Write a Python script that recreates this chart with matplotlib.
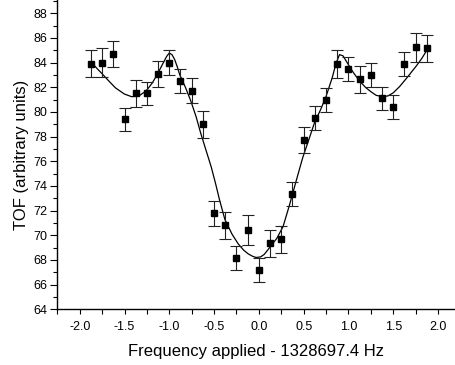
import matplotlib
matplotlib.use('Agg')
import matplotlib.pyplot as plt
from matplotlib.ticker import MultipleLocator, FormatStrFormatter

freq = [-1.875, -1.75, -1.625, -1.5, -1.375, -1.25, -1.125, -1.0, -0.875, -0.75, -0.625,
        -0.5, -0.375, -0.25, -0.125, 0.0, 0.125, 0.25, 0.375, 0.5, 0.625, 0.75, 0.875,
        1.0, 1.125, 1.25, 1.375, 1.5, 1.625, 1.75, 1.875]
tof = [83.9, 84.0, 84.7, 79.4, 81.5, 81.5, 83.05, 84.0, 82.5, 81.73, 79.0,
       71.78, 70.83, 68.16, 70.43, 67.18, 69.35, 69.67, 73.35, 77.73, 79.51, 80.97, 83.89,
       83.48, 82.65, 83.0, 81.1, 80.38, 83.89, 85.24, 85.16]
tof_err = [1.1, 1.15, 1.07, 0.92, 1.13, 0.97, 1.05, 1.0, 1.0, 1.0, 1.1,
           1.0, 1.1, 1.0, 1.2, 1.0, 1.1, 1.1, 1.0, 1.05, 1.0, 1.0, 1.1,
           1.0, 1.1, 1.0, 0.95, 0.96, 1.0, 1.15, 1.1]

# fit curve
fit_x = [-1.875, -1.81, -1.75, -1.68, -1.6, -1.5, -1.42, -1.34, -1.26, -1.19, -1.13, -1.07,
         -1.03, -1.0, -0.97, -0.94, -0.91, -0.885, -0.82, -0.76, -0.7, -0.65, -0.59, -0.53,
         -0.48, -0.44, -0.38, -0.3, -0.23, -0.17, -0.12, -0.07, -0.03, 0.02, 0.06, 0.12,
         0.2, 0.27, 0.34, 0.42, 0.49, 0.56, 0.62, 0.69, 0.75, 0.82, 0.86, 0.9, 0.94, 0.99,
         1.05, 1.12, 1.19, 1.25, 1.31, 1.38, 1.44, 1.5, 1.57, 1.645, 1.7, 1.76, 1.82, 1.875]
fit_y = [84.07, 83.55, 83.1, 82.55, 81.95, 81.45, 81.24, 81.3, 81.7, 82.35, 83.1, 83.95,
         84.5, 84.78, 84.65, 84.25, 83.65, 83.05, 82.0, 80.9, 79.6, 78.3, 76.9, 75.5,
         74.1, 72.9, 71.3, 70.1, 69.3, 68.8, 68.5, 68.3, 68.2, 68.25, 68.45, 69.0,
         69.75, 70.7, 72.4, 74.5, 76.3, 77.8, 79.1, 80.2, 81.25, 82.8, 83.9, 84.65, 84.55, 83.95,
         83.25, 82.55, 82.0, 81.65, 81.35, 81.24, 81.3, 81.55, 82.05, 82.7, 83.2, 83.75, 84.35, 85.0]

plt.rcParams['font.family'] = ['Liberation Sans', 'DejaVu Sans']
plt.rcParams['axes.unicode_minus'] = False

fig = plt.figure(figsize=(4.55, 3.65), dpi=100)
ax = fig.add_axes([0.126, 0.1526, 0.874, 0.8474])

ax.plot(fit_x, fit_y, color='black', lw=0.9)
ax.errorbar(freq, tof, yerr=tof_err, fmt='s', color='black', ms=5,
            ecolor='#222222', elinewidth=0.8, capsize=4.5, capthick=0.8)

ax.set_xlim(-2.25, 2.19)
ax.set_ylim(64, 89.08)
ax.xaxis.set_major_locator(MultipleLocator(0.5))
ax.xaxis.set_minor_locator(MultipleLocator(0.25))
ax.xaxis.set_major_formatter(FormatStrFormatter('%.1f'))
ax.yaxis.set_major_locator(MultipleLocator(2))
ax.yaxis.set_minor_locator(MultipleLocator(1))

for s in ['top', 'right']:
    ax.spines[s].set_visible(False)
for s in ['left', 'bottom']:
    ax.spines[s].set_linewidth(1.0)

ax.tick_params(axis='both', which='both', direction='out', width=0.8, labelsize=9)
ax.tick_params(axis='y', which='major', length=5, pad=2.5)
ax.tick_params(axis='y', which='minor', length=3)
ax.tick_params(axis='x', which='both', length=3.6, pad=5)

ax.set_xlabel('Frequency applied - 1328697.4 Hz', fontsize=12, labelpad=7.5)
ax.set_ylabel('TOF (arbitrary units)', fontsize=12, labelpad=3)

fig.savefig('out.png', dpi=100)
